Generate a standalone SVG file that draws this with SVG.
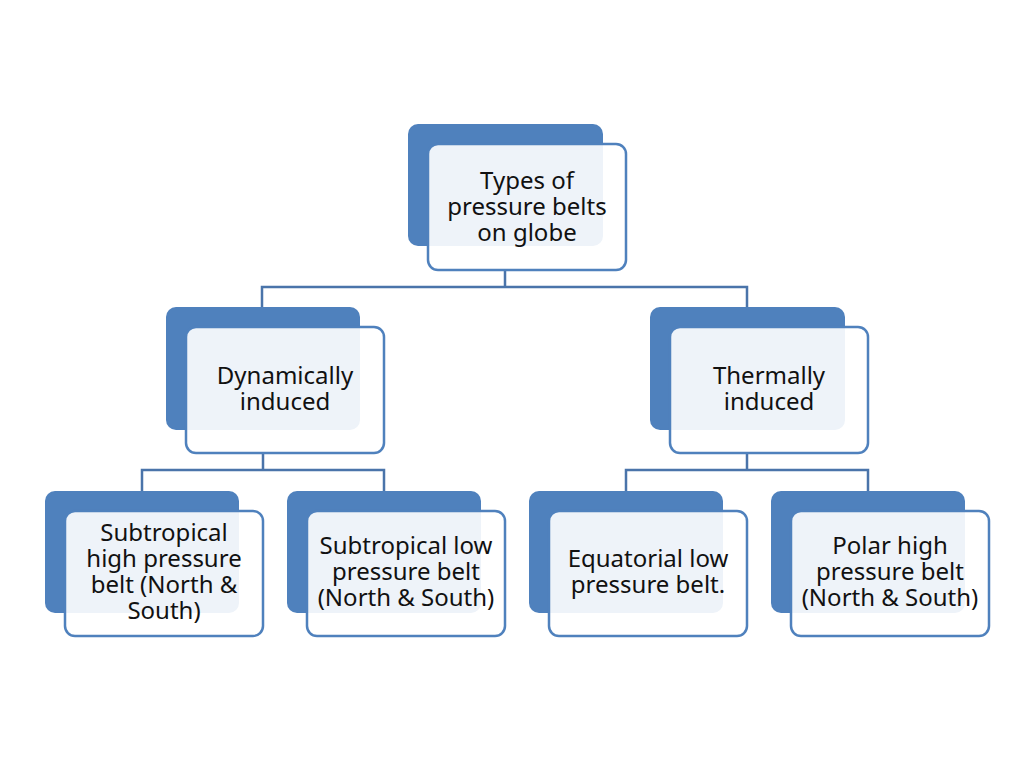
<svg xmlns="http://www.w3.org/2000/svg" width="1024" height="768" viewBox="0 0 1024 768">
<style>
.b{fill:#4f81bd}
.f{fill:#fff;fill-opacity:0.9;stroke:#4f81bd;stroke-width:2.5}
.c{fill:none;stroke:#4a74aa;stroke-width:2.5}
text{font-family:"Noto Sans","Open Sans",sans-serif;font-size:24px;fill:#111;text-anchor:middle}
</style>
<rect width="1024" height="768" fill="#fff"/>
<g id="connectors">
<path class="c" d="M505 270V287M262 307V287H747V307"/>
<path class="c" d="M263 453V470M142 491V470H384V491"/>
<path class="c" d="M747 453V470M626 491V470H868V491"/>
</g>
<g id="root"><rect class="b" x="408" y="124" width="195" height="122" rx="10"/><rect class="f" x="428" y="144" width="198" height="126" rx="10"/>
<text x="527" y="189">Types of</text><text x="527" y="215">pressure belts</text><text x="527" y="241">on globe</text></g>
<g id="dyn"><rect class="b" x="166" y="307" width="194" height="123" rx="10"/><rect class="f" x="186" y="327" width="198" height="126" rx="10"/>
<text x="285" y="384">Dynamically</text><text x="285" y="410">induced</text></g>
<g id="therm"><rect class="b" x="650" y="307" width="195" height="123" rx="10"/><rect class="f" x="670" y="327" width="198" height="126" rx="10"/>
<text x="769" y="384">Thermally</text><text x="769" y="410">induced</text></g>
<g id="n1"><rect class="b" x="45" y="491" width="194" height="122" rx="10"/><rect class="f" x="65" y="511" width="198" height="125" rx="10"/>
<text x="164" y="541">Subtropical</text><text x="164" y="567">high pressure</text><text x="164" y="593">belt (North &amp;</text><text x="164" y="619">South)</text></g>
<g id="n2"><rect class="b" x="287" y="491" width="194" height="122" rx="10"/><rect class="f" x="307" y="511" width="198" height="125" rx="10"/>
<text x="406" y="554">Subtropical low</text><text x="406" y="580">pressure belt</text><text x="406" y="606">(North &amp; South)</text></g>
<g id="n3"><rect class="b" x="529" y="491" width="194" height="122" rx="10"/><rect class="f" x="549" y="511" width="198" height="125" rx="10"/>
<text x="648" y="567">Equatorial low</text><text x="648" y="593">pressure belt.</text></g>
<g id="n4"><rect class="b" x="771" y="491" width="194" height="122" rx="10"/><rect class="f" x="791" y="511" width="198" height="125" rx="10"/>
<text x="890" y="554">Polar high</text><text x="890" y="580">pressure belt</text><text x="890" y="606">(North &amp; South)</text></g>
</svg>
